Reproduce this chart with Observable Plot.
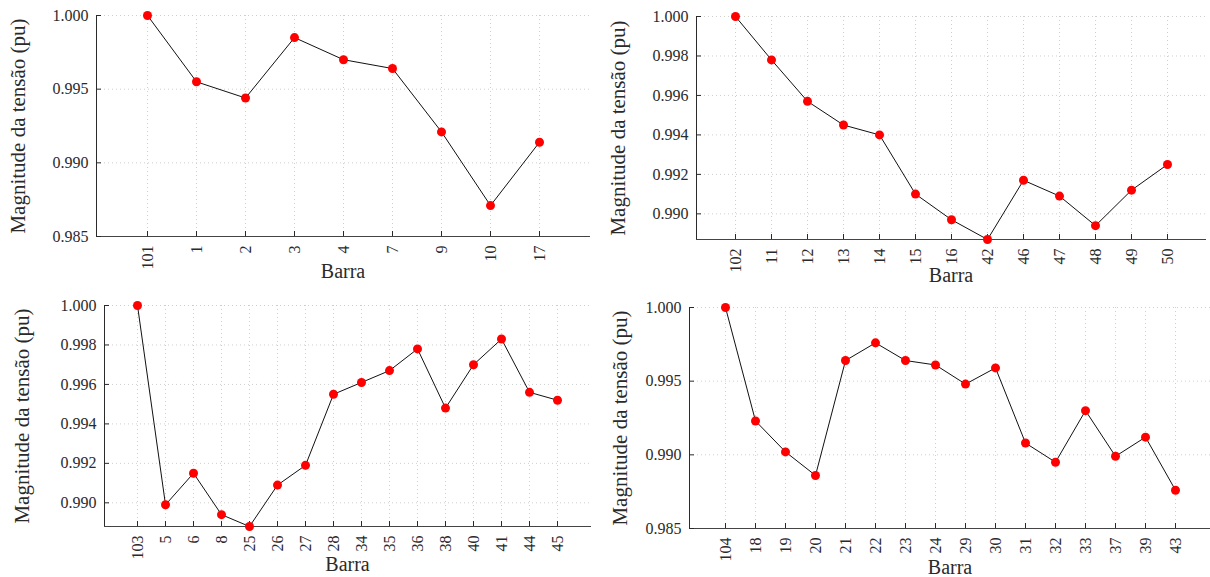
<!DOCTYPE html>
<html>
<head>
<meta charset="utf-8">
<script src="https://cdn.jsdelivr.net/npm/d3@7"></script>
<script src="https://cdn.jsdelivr.net/npm/@observablehq/plot@0.6"></script>
<style>
  html, body { margin: 0; padding: 0; background: #fff; }
  #wrap { position: relative; width: 1210px; height: 577px; overflow: hidden; }
  .panel { position: absolute; }
  .panel svg { overflow: visible; }
  .panel svg, .panel svg text, .panel svg g { font-family: "Liberation Serif", "Times New Roman", serif !important; }
</style>
</head>
<body>
<div id="wrap">
  <div class="panel" id="p1" style="left:0px;top:0px"></div>
  <div class="panel" id="p2" style="left:605px;top:0px"></div>
  <div class="panel" id="p3" style="left:0px;top:290px"></div>
  <div class="panel" id="p4" style="left:605px;top:290px"></div>
</div>
<script>
// ---- Data ----
const buses1 = ["101", "1", "2", "3", "4", "7", "9", "10", "17"];
const volts1 = [1.0000, 0.9955, 0.9944, 0.9985, 0.9970, 0.9964, 0.9921, 0.9871, 0.9914];
const yTicks1 = [0.985, 0.990, 0.995, 1.000];

const buses2 = ["102", "11", "12", "13", "14", "15", "16", "42", "46", "47", "48", "49", "50"];
const volts2 = [1.0000, 0.9978, 0.9957, 0.9945, 0.9940, 0.9910, 0.9897, 0.9887, 0.9917, 0.9909, 0.9894, 0.9912, 0.9925];
const yTicks2 = [0.990, 0.992, 0.994, 0.996, 0.998, 1.000];

const buses3 = ["103", "5", "6", "8", "25", "26", "27", "28", "34", "35", "36", "38", "40", "41", "44", "45"];
const volts3 = [1.0000, 0.9899, 0.9915, 0.9894, 0.9888, 0.9909, 0.9919, 0.9955, 0.9961, 0.9967, 0.9978, 0.9948, 0.9970, 0.9983, 0.9956, 0.9952];
const yTicks3 = [0.990, 0.992, 0.994, 0.996, 0.998, 1.000];

const buses4 = ["104", "18", "19", "20", "21", "22", "23", "24", "29", "30", "31", "32", "33", "37", "39", "43"];
const volts4 = [1.0000, 0.9923, 0.9902, 0.9886, 0.9964, 0.9976, 0.9964, 0.9961, 0.9948, 0.9959, 0.9908, 0.9895, 0.9930, 0.9899, 0.9912, 0.9876];
const yTicks4 = [0.985, 0.990, 0.995, 1.000];

const yTitle = "Magnitude da tensão (pu)";
const xTitle = "Barra";

// ---- Drawing ----
const FONT = "Liberation Serif";
function panel(buses, volts, yTicks, yDomain, cfg) {
  const data = buses.map((b, i) => ({bus: b, v: volts[i]}));
  const grid = {stroke: "#cfcfcf", strokeOpacity: 1, strokeDasharray: "1,3"};
  return Plot.plot({
    width: cfg.width, height: cfg.height,
    marginTop: cfg.mt, marginRight: cfg.mr, marginBottom: cfg.mb, marginLeft: cfg.ml,
    style: {fontFamily: FONT, color: "#2a2a2a", background: "transparent", overflow: "visible"},
    x: {type: "point", domain: buses, padding: 1},
    y: {domain: yDomain},
    marks: [
      Plot.gridX(grid),
      Plot.gridY(yTicks, grid),
      Plot.frame({anchor: "left", stroke: "#2a2a2a"}),
      Plot.frame({anchor: "bottom", stroke: "#444"}),
      Plot.axisY(yTicks, {tickFormat: d3.format(".3f"), tickSize: -5, tickPadding: 13, fontSize: 16, fontFamily: FONT, label: null}),
      Plot.axisY([], {label: yTitle, labelAnchor: "center", labelOffset: cfg.ylo, fontSize: 21, fontFamily: FONT, tickSize: 0, labelArrow: "none"}),
      Plot.axisX({tickRotate: -90, tickSize: -5, tickPadding: 14, fontSize: 16, fontFamily: FONT, label: null}),
      Plot.axisX([], {label: xTitle, labelAnchor: "center", labelOffset: cfg.xlo, fontSize: 20, fontFamily: FONT, tickSize: 0, labelArrow: "none"}),
      Plot.line(data, {x: "bus", y: "v", stroke: "#111", strokeWidth: 1}),
      Plot.dot(data, {x: "bus", y: "v", r: 4.5, fill: "#ff0000", stroke: "none"})
    ]
  });
}

document.getElementById("p1").append(panel(buses1, volts1, yTicks1, [0.985, 1.000],
  {width: 605, height: 290, mt: 15, mr: 16, mb: 54, ml: 96, ylo: 86, xlo: 41}));
document.getElementById("p2").append(panel(buses2, volts2, yTicks2, [d3.min(volts2), 1.000],
  {width: 605, height: 290, mt: 16, mr: 5, mb: 51, ml: 91, ylo: 86, xlo: 42}));
document.getElementById("p3").append(panel(buses3, volts3, yTicks3, [d3.min(volts3), 1.000],
  {width: 605, height: 287, mt: 15, mr: 15, mb: 51, ml: 104, ylo: 90, xlo: 44}));
document.getElementById("p4").append(panel(buses4, volts4, yTicks4, [0.985, 1.000],
  {width: 605, height: 287, mt: 17, mr: 0, mb: 49, ml: 84, ylo: 77, xlo: 45}));
</script>
</body>
</html>
